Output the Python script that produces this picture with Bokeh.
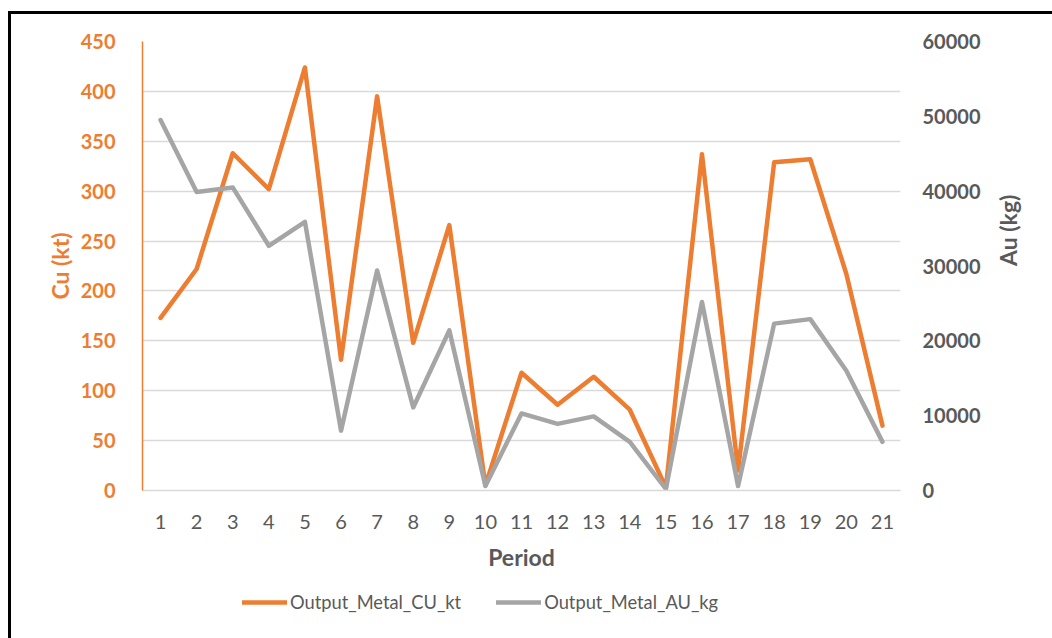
import math
from bokeh.plotting import figure
from bokeh.layouts import column
from bokeh.models import LinearAxis, Range1d, Legend, LegendItem, FixedTicker
from bokeh.embed import file_html
from bokeh.resources import INLINE

periods = [str(i) for i in range(1, 22)]
cu_kt = [173, 222, 338, 302, 424, 131, 395, 148, 266, 5, 118, 86, 114, 81, 3, 337, 20, 329, 332, 217, 65]
au_kg = [49500, 39900, 40500, 32700, 35900, 8000, 29400, 11100, 21400, 600, 10300, 8900, 9900, 6500, 200, 25200, 600, 22300, 22900, 16000, 6500]
cu_ticks = [0, 50, 100, 150, 200, 250, 300, 350, 400, 450]
au_ticks = [0, 10000, 20000, 30000, 40000, 50000, 60000]
series_names = ["Output_Metal_CU_kt", "Output_Metal_AU_kg"]

ORANGE = "#ED7D31"
GRAY = "#A5A5A5"
TXT = "#595959"
FONT = "Lato"

p = figure(width=1041, height=560, x_range=periods, y_range=Range1d(0, 450),
           output_backend="svg", toolbar_location=None,
           min_border_left=131, min_border_right=152, min_border_top=27, min_border_bottom=84)
p.x_range.range_padding = 0
p.extra_y_ranges = {"au": Range1d(0, 60000)}
p.outline_line_color = None
p.xgrid.grid_line_color = None
p.ygrid.grid_line_color = "#D9D9D9"
p.ygrid.grid_line_width = 1.5
p.ygrid.ticker = FixedTicker(ticks=cu_ticks)

p.line(periods, cu_kt, line_color=ORANGE, line_width=4.5, line_join="round", line_cap="round")
p.line(periods, au_kg, y_range_name="au", line_color=GRAY, line_width=4.5, line_join="round", line_cap="round")

# x axis
xa = p.xaxis[0]
xa.axis_label = "Period"
xa.axis_label_text_font = FONT
xa.axis_label_text_font_style = "bold"
xa.axis_label_text_font_size = "23px"
xa.axis_label_text_color = TXT
xa.axis_label_standoff = 11
xa.major_label_text_font = FONT
xa.major_label_text_font_size = "20px"
xa.major_label_text_color = TXT
xa.major_label_standoff = 18
xa.axis_line_color = "#D9D9D9"
xa.axis_line_width = 1.5
xa.major_tick_line_color = None
xa.minor_tick_line_color = None

# left axis
ya = p.yaxis[0]
ya.ticker = FixedTicker(ticks=cu_ticks)
ya.axis_label = "Cu (kt)"
ya.axis_label_text_font = FONT
ya.axis_label_text_font_style = "bold"
ya.axis_label_text_font_size = "23px"
ya.axis_label_text_color = ORANGE
ya.axis_label_standoff = 4
ya.major_label_text_font = FONT
ya.major_label_text_font_style = "bold"
ya.major_label_text_font_size = "20px"
ya.major_label_text_color = ORANGE
ya.major_label_standoff = 21
ya.axis_line_color = ORANGE
ya.axis_line_width = 1.5
ya.major_tick_line_color = None
ya.minor_tick_line_color = None

# right axis (tick labels)
ra = LinearAxis(y_range_name="au", ticker=FixedTicker(ticks=au_ticks))
ra.major_label_text_font = FONT
ra.major_label_text_font_style = "bold"
ra.major_label_text_font_size = "20px"
ra.major_label_text_color = TXT
ra.major_label_standoff = 16
ra.axis_line_color = None
ra.major_tick_line_color = None
ra.minor_tick_line_color = None
p.add_layout(ra, "right")

# right axis title (bottom-to-top); bounds shift its anchor so the text is centred
rt = LinearAxis(y_range_name="au", ticker=FixedTicker(ticks=[]), bounds=(0, 50000))
rt.axis_label = "Au (kg)"
rt.axis_label_orientation = math.pi / 2
rt.axis_label_text_font = FONT
rt.axis_label_text_font_style = "bold"
rt.axis_label_text_font_size = "23px"
rt.axis_label_text_color = TXT
rt.axis_label_standoff = 24
rt.axis_line_color = None
rt.major_tick_line_color = None
rt.minor_tick_line_color = None
p.add_layout(rt, "right")

# legend strip: swatch renderers sit outside this strip's visible range
lf = figure(width=1041, height=64, x_range=periods, y_range=Range1d(-2, -1),
            output_backend="svg", toolbar_location=None,
            x_axis_location=None, y_axis_location=None,
            min_border_left=0, min_border_right=0, min_border_top=0, min_border_bottom=0)
lf.grid.visible = False
lf.outline_line_color = None
s1 = lf.line(periods, cu_kt, line_color=ORANGE, line_width=4.5, line_cap="round")
s2 = lf.line(periods, au_kg, line_color=GRAY, line_width=4.5, line_cap="round")
legend = Legend(items=[LegendItem(label=series_names[0], renderers=[s1]),
                       LegendItem(label=series_names[1], renderers=[s2])],
                orientation="horizontal", location=(100, 25),
                glyph_width=45, glyph_height=20, label_standoff=3, spacing=35,
                padding=0, margin=0, border_line_color=None, background_fill_alpha=0,
                label_text_font=FONT, label_text_font_size="18.3px", label_text_color=TXT)
lf.add_layout(legend, "center")

layout = column(p, lf, spacing=0, margin=(11, 0, 0, 8))
layout.styles = {"border-left": "3px solid black", "border-top": "3px solid black"}

open("out.html", "w").write(file_html(layout, INLINE))
